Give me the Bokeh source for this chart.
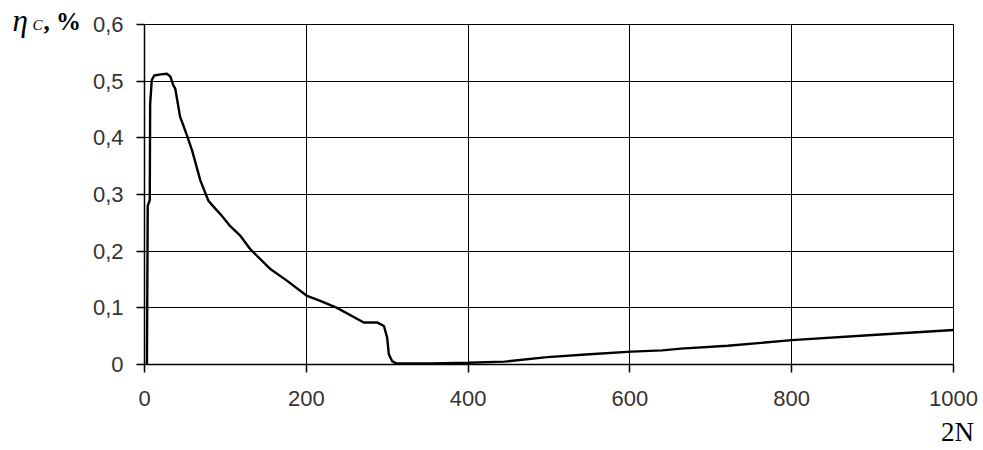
from bokeh.plotting import figure
from bokeh.models import Range1d, FixedTicker, Label
from bokeh.embed import file_html
from bokeh.resources import INLINE

# ---- data ----
n2 = [3, 4, 6.5, 7, 9, 12, 20, 28, 32, 35.5, 38, 44, 48, 53, 59, 69, 79, 85, 94,
      106, 118, 131, 156, 176, 201, 218, 238, 271, 288, 296, 300, 302, 306, 311,
      354, 400, 445, 498, 550, 602, 640, 663, 721, 800, 900, 1000]
eta = [0.0, 0.28, 0.29, 0.46, 0.502, 0.51, 0.512, 0.513, 0.508, 0.493, 0.487, 0.437,
       0.422, 0.402, 0.377, 0.325, 0.289, 0.279, 0.265, 0.244, 0.228, 0.203, 0.168,
       0.148, 0.121, 0.112, 0.1, 0.074, 0.074, 0.068, 0.047, 0.018, 0.006, 0.002,
       0.002, 0.003, 0.005, 0.013, 0.018, 0.0227, 0.025, 0.028, 0.033, 0.043, 0.052, 0.061]

x_ticks = [0, 200, 400, 600, 800, 1000]
x_tick_labels = ["0", "200", "400", "600", "800", "1000"]
y_ticks = [0, 0.1, 0.2, 0.3, 0.4, 0.5, 0.6]
y_tick_labels = ["0", "0,1", "0,2", "0,3", "0,4", "0,5", "0,6"]

W, H = 983, 450
L, R, T, B = 144, 30, 24, 86

p = figure(width=W, height=H, output_backend="svg", toolbar_location=None,
           x_range=Range1d(0, 1000), y_range=Range1d(0, 0.6),
           min_border_left=L, min_border_right=R, min_border_top=T, min_border_bottom=B)
p.background_fill_color = "white"
p.border_fill_color = "white"
p.outline_line_color = "black"
p.outline_line_width = 1

fw, fh = W - L - R, H - T - B
def sx(px):
    return (px - L) / fw * 1000.0
def sy(py):
    return (H - B - py) / fh * 0.6

for ax in (p.xaxis, p.yaxis):
    ax.axis_line_color = "black"
    ax.axis_line_width = 1.5
    ax.major_tick_line_color = "black"
    ax.major_tick_line_width = 1.5
    ax.major_tick_in = 0
    ax.major_tick_out = 8
    ax.minor_tick_line_color = None
    ax.major_label_text_font = "Liberation Sans"
    ax.major_label_text_font_size = "22px"
    ax.major_label_text_color = "#333333"

p.xaxis.ticker = FixedTicker(ticks=x_ticks)
p.xaxis.major_label_overrides = dict(zip(x_ticks, x_tick_labels))
p.xaxis.major_label_standoff = 18
p.yaxis.ticker = FixedTicker(ticks=y_ticks)
p.yaxis.major_label_overrides = dict(zip(y_ticks, y_tick_labels))
p.yaxis.major_label_standoff = 13

p.xgrid.ticker = FixedTicker(ticks=x_ticks)
p.ygrid.ticker = FixedTicker(ticks=y_ticks)
for g in (p.xgrid, p.ygrid):
    g.grid_line_color = "black"
    g.grid_line_width = 1
    g.grid_line_alpha = 1

p.line(n2, eta, line_color="black", line_width=2.4)

# axis titles (placed in side panels so they are not clipped to the frame)
p.add_layout(Label(x=sx(12), y=sy(20), text="η", text_font="Liberation Serif",
                   text_font_style="italic", text_font_size="31px", text_color="black",
                   text_baseline="alphabetic", text_align="left"), "left")
p.add_layout(Label(x=sx(32), y=sy(24), text="C", text_font="Liberation Serif",
                   text_font_style="italic", text_font_size="15px", text_color="black",
                   text_baseline="alphabetic", text_align="left"), "left")
p.add_layout(Label(x=sx(43), y=sy(21), text=", %", text_font="Liberation Serif",
                   text_font_style="bold", text_font_size="25px", text_color="black",
                   text_baseline="alphabetic", text_align="left"), "left")
p.add_layout(Label(x=sx(957), y=sy(431), text="2N", text_font="Liberation Serif",
                   text_font_size="27px", text_color="black",
                   text_baseline="alphabetic", text_align="center"), "below")

open("out.html", "w").write(file_html(p, INLINE))
